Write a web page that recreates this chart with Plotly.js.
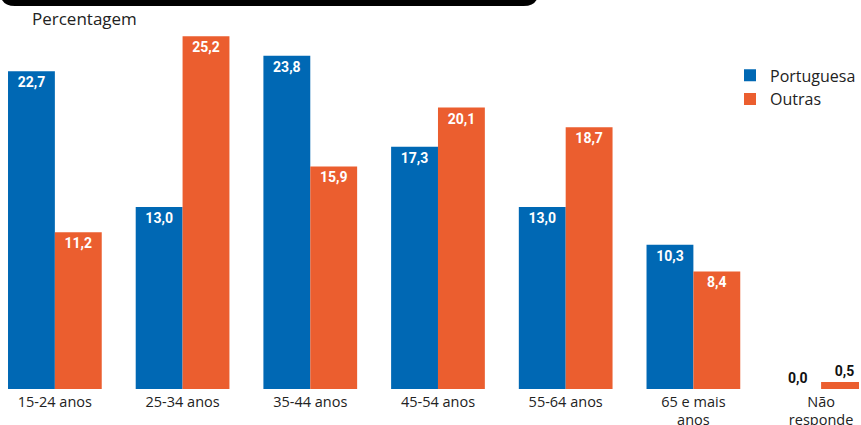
<!DOCTYPE html>
<html>
<head>
<meta charset="utf-8">
<script src="https://cdn.plot.ly/plotly-3.0.1.min.js"></script>
<style>html,body{margin:0;padding:0;background:#fff;}#chart{width:861px;height:425px;}</style>
</head>
<body>
<div id="chart"></div>
<script>
const categories = ["15-24 anos", "25-34 anos", "35-44 anos", "45-54 anos", "55-64 anos", "65 e mais<br>anos", "Não<br>responde"];
const portuguesa = [22.7, 13.0, 23.8, 17.3, 13.0, 10.3, 0.0];
const outras = [11.2, 25.2, 15.9, 20.1, 18.7, 8.4, 0.5];
const seriesNames = ["Portuguesa", "Outras"];
const colors = ["#0068B4", "#EB5E2F"];

const fmt = v => v.toFixed(1).replace('.', ',');
const pos = arr => arr.map(v => v < 2 ? 'outside' : 'inside');

function trace(name, vals, color) {
  return {
    type: 'bar', name: name, x: categories, y: vals,
    marker: {color: color},
    text: vals.map(fmt), textposition: pos(vals),
    insidetextanchor: 'end',
    constraintext: 'none',
    cliponaxis: false,
    insidetextfont: {color: '#ffffff', size: 14, family: 'Roboto, sans-serif', weight: 700},
    outsidetextfont: {color: '#111111', size: 14, family: 'Roboto, sans-serif', weight: 700},
    hoverinfo: 'skip'
  };
}

const data = [trace(seriesNames[0], portuguesa, colors[0]), trace(seriesNames[1], outras, colors[1])];

const yb = 1 - 6/389, ry = 15/389, rx = 15/861, x0 = 0, x1 = 0.627;
const layout = {
  width: 861, height: 425,
  margin: {l: 0, r: 0, t: 0, b: 36, pad: 0},
  paper_bgcolor: '#fff', plot_bgcolor: '#fff',
  barmode: 'group', bargap: 0.266, bargroupgap: 0,
  font: {family: '"Open Sans", sans-serif', color: '#222'},
  xaxis: {range: [-55/128, (861-55)/128], showgrid: false, zeroline: false, showline: false, automargin: false,
          ticks: '', ticklabelstandoff: 2, tickfont: {size: 14.5, color: '#222'}, fixedrange: true},
  yaxis: {range: [0, 389/14], showgrid: false, zeroline: false, showline: false, showticklabels: false, automargin: false, fixedrange: true},
  legend: {x: 0.850, y: 0.85, xanchor: 'left', yanchor: 'top', font: {size: 16, color: '#222'},
           bgcolor: 'rgba(0,0,0,0)', itemwidth: 30, tracegroupgap: 0},
  showlegend: true,
  annotations: [{text: 'Percentagem', xref: 'paper', yref: 'paper', x: 30/861, y: 1 - 18/389,
                 xanchor: 'left', yanchor: 'middle', showarrow: false, font: {size: 17, color: '#222'}}],
  shapes: [{type: 'path', xref: 'paper', yref: 'paper', fillcolor: '#000', line: {width: 0},
            path: `M ${x0},1.2 L ${x0},${yb+ry} Q ${x0},${yb} ${x0+rx},${yb} L ${x1-rx},${yb} Q ${x1},${yb} ${x1},${yb+ry} L ${x1},1.2 Z`}]
};

Plotly.newPlot('chart', data, layout, {displayModeBar: false, staticPlot: true});
</script>
</body>
</html>
